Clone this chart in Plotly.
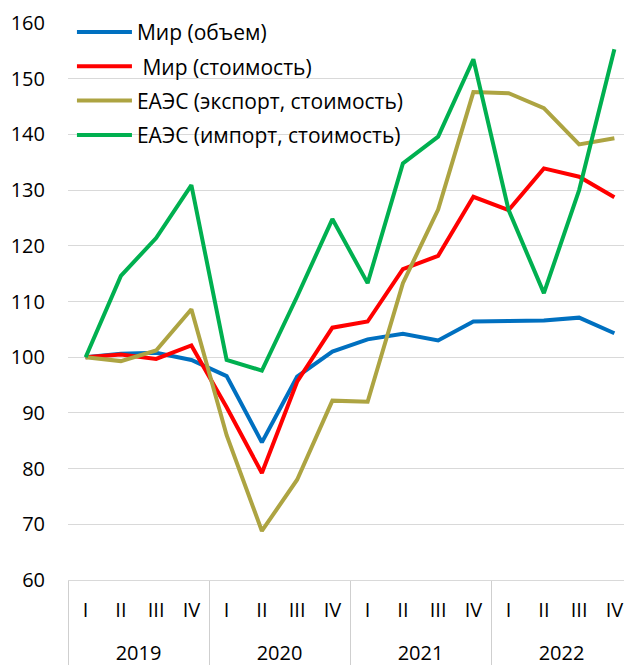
import plotly.graph_objects as go

years = ["2019"] * 4 + ["2020"] * 4 + ["2021"] * 4 + ["2022"] * 4
quarters = ["I", "II", "III", "IV"] * 4

world_volume = [100.0, 100.6, 100.8, 99.5, 96.6, 84.7, 96.5, 101.0,
                103.2, 104.2, 103.0, 106.4, 106.5, 106.6, 107.1, 104.3]
world_value = [100.0, 100.5, 99.7, 102.1, 91.0, 79.2, 95.6, 105.3,
               106.4, 115.8, 118.2, 128.8, 126.4, 133.9, 132.4, 128.7]
eaeu_export = [100.0, 99.3, 101.2, 108.6, 86.0, 68.8, 78.0, 92.2,
               92.0, 113.3, 126.5, 147.6, 147.4, 144.7, 138.2, 139.3]
eaeu_import = [100.0, 114.6, 121.4, 130.9, 99.5, 97.6, 110.9, 124.8,
               113.3, 134.8, 139.6, 153.5, 126.4, 111.5, 130.0, 155.3]

names = ["Мир (объем)", " Мир (стоимость)", "ЕАЭС (экспорт, стоимость)", "ЕАЭС (импорт, стоимость)"]
series = [world_volume, world_value, eaeu_export, eaeu_import]
colors = ["#0070C0", "#FF0000", "#ADA442", "#00B050"]

FONT = "Open Sans"
# quarter labels get an empty second line to push the year row down
quarter_labels = [q + "<br> " for q in quarters]

fig = go.Figure()
for i, (nm, vals, col) in enumerate(zip(names, series, colors)):
    fig.add_trace(go.Scatter(
        x=[years, quarter_labels], y=vals, name=nm, mode="lines",
        line=dict(color=col, width=4), legendgroup=str(i),
    ))

# page body has an 8px margin, so the figure is 8px smaller and margins shifted
fig.update_layout(
    width=624, height=657,
    margin=dict(l=60, r=0, t=15, b=85),
    paper_bgcolor="white", plot_bgcolor="white",
    font=dict(family=FONT, size=20, color="#000000"),
    showlegend=True,
    legend=dict(x=0.007, y=1.02, xanchor="left", yanchor="top",
                bgcolor="rgba(0,0,0,0)", itemwidth=55, tracegroupgap=4,
                font=dict(family=FONT, size=21, color="#000000")),
)
fig.update_yaxes(range=[60, 160], dtick=10, showgrid=True, gridcolor="#D9D9D9", gridwidth=1.3,
                 zeroline=False, ticks="", ticklabelstandoff=22,
                 tickfont=dict(family=FONT, size=20))
fig.update_xaxes(type="multicategory", range=[-0.5, 15.5], showgrid=False, showline=True,
                 linecolor="#D9D9D9", linewidth=1.3, showdividers=True,
                 dividercolor="#CFCFCF", dividerwidth=1.3, ticks="", ticklabelstandoff=12,
                 tickfont=dict(family=FONT, size=20))

fig.write_html("out.html")
